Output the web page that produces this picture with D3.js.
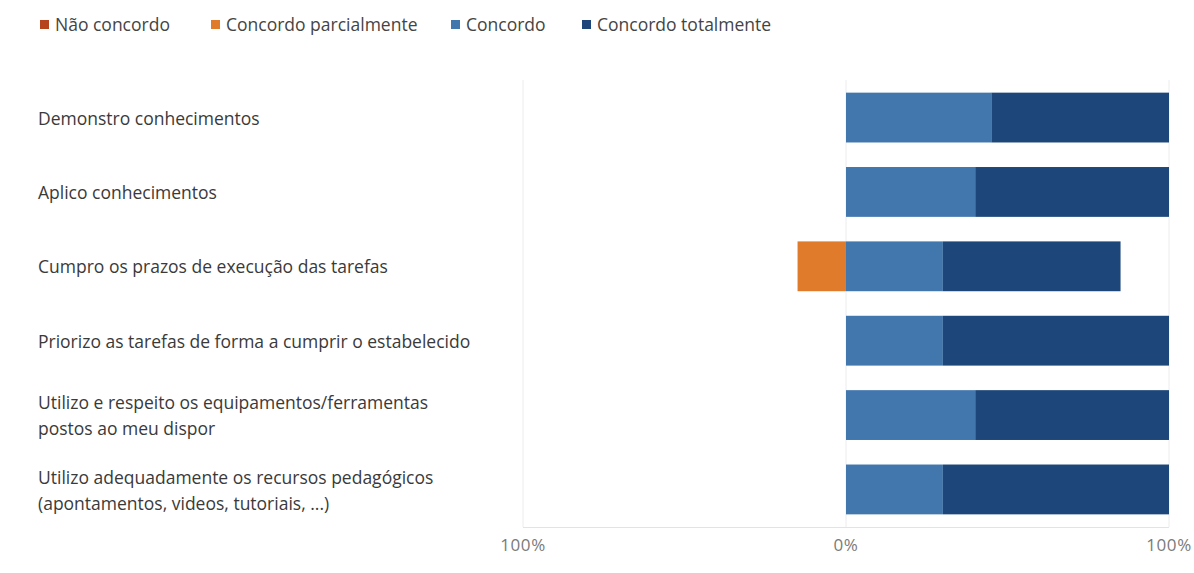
<!DOCTYPE html>
<html>
<head>
<meta charset="utf-8">
<script src="https://cdn.jsdelivr.net/npm/d3@7"></script>
<style>
  body { margin: 0; background: #fff; }
  text { font-family: "Open Sans", "Noto Sans", sans-serif; }
</style>
</head>
<body>
<div id="vis"></div>
<script>
// data (percent of answers)
var categories = [
    ["Demonstro conhecimentos"],
    ["Aplico conhecimentos"],
    ["Cumpro os prazos de execução das tarefas"],
    ["Priorizo as tarefas de forma a cumprir o estabelecido"],
    ["Utilizo e respeito os equipamentos/ferramentas", "postos ao meu dispor"],
    ["Utilizo adequadamente os recursos pedagógicos", "(apontamentos, videos, tutoriais, ...)"]
];
var seriesNames = ["Não concordo", "Concordo parcialmente", "Concordo", "Concordo totalmente"];
var naoConcordo = [0, 0, 0, 0, 0, 0];
var concordoParcial = [0, 0, 15, 0, 0, 0];
var concordo = [45, 40, 30, 30, 40, 30];
var concordoTotal = [55, 60, 55, 70, 60, 70];
var tickValues = [-100, 0, 100];
var tickLabels = ["100%", "0%", "100%"];

var colors = ["#b5441a", "#e07b2c", "#4277ad", "#1d477a"];

var width = 1194, height = 573;

var svg = d3.select("#vis").append("svg")
    .attr("width", width)
    .attr("height", height);

var x = d3.scaleLinear().domain([-100, 100]).range([523, 1169]);
var y = d3.scaleBand().domain(d3.range(categories.length)).range([80, 527]).paddingInner(0.33).paddingOuter(0.17);

// grid lines
svg.append("g").selectAll("line")
    .data(tickValues)
    .enter().append("line")
    .attr("x1", function(d) { return x(d); })
    .attr("x2", function(d) { return x(d); })
    .attr("y1", 80)
    .attr("y2", 527)
    .attr("stroke", "#ececec")
    .attr("stroke-width", 1);

// bottom axis line
svg.append("line")
    .attr("x1", x(-100)).attr("x2", x(100))
    .attr("y1", 527.5).attr("y2", 527.5)
    .attr("stroke", "#e3e3e3");

// build segments: negatives stack to the left of 0, positives to the right
var segs = [];
categories.forEach(function(c, i) {
    var left = 0;
    [[1, concordoParcial[i]], [0, naoConcordo[i]]].forEach(function(s) {
        if (s[1] > 0) { segs.push({ i: i, k: s[0], x0: left - s[1], x1: left }); left -= s[1]; }
    });
    var right = 0;
    [[2, concordo[i]], [3, concordoTotal[i]]].forEach(function(s) {
        if (s[1] > 0) { segs.push({ i: i, k: s[0], x0: right, x1: right + s[1] }); right += s[1]; }
    });
});

svg.append("g").selectAll("rect")
    .data(segs)
    .enter().append("rect")
    .attr("x", function(d) { return x(d.x0); })
    .attr("width", function(d) { return x(d.x1) - x(d.x0); })
    .attr("y", function(d) { return y(d.i); })
    .attr("height", y.bandwidth())
    .attr("fill", function(d) { return colors[d.k]; });

// category labels
var labels = svg.append("g").selectAll("text")
    .data(categories)
    .enter().append("text")
    .attr("x", 38)
    .attr("y", function(d, i) { return y(i) + y.bandwidth() / 2 + 1 - (d.length - 1) * 13; })
    .attr("fill", "#3a3a3a")
    .style("font-size", "17.5px");
labels.selectAll("tspan")
    .data(function(d) { return d; })
    .enter().append("tspan")
    .attr("x", 38)
    .attr("dy", function(d, j) { return j == 0 ? "0.35em" : 26; })
    .text(function(d) { return d; });

// tick labels
svg.append("g").selectAll("text")
    .data(tickValues)
    .enter().append("text")
    .attr("x", function(d) { return x(d); })
    .attr("y", 551)
    .attr("text-anchor", "middle")
    .attr("fill", "#7a7a7a")
    .style("font-size", "17px")
    .style("letter-spacing", "0.6px")
    .text(function(d, i) { return tickLabels[i]; });

// legend
var legendX = [40, 211, 451, 582];
var legend = svg.append("g").selectAll("g")
    .data(seriesNames)
    .enter().append("g")
    .attr("transform", function(d, i) { return "translate(" + legendX[i] + ",25)"; });
legend.append("rect")
    .attr("x", 0).attr("y", -5)
    .attr("width", 9).attr("height", 9)
    .attr("fill", function(d, i) { return colors[i]; });
legend.append("text")
    .attr("x", 15)
    .attr("dy", "0.35em")
    .attr("fill", "#444")
    .style("font-size", "17.5px")
    .text(function(d) { return d; });
</script>
</body>
</html>
